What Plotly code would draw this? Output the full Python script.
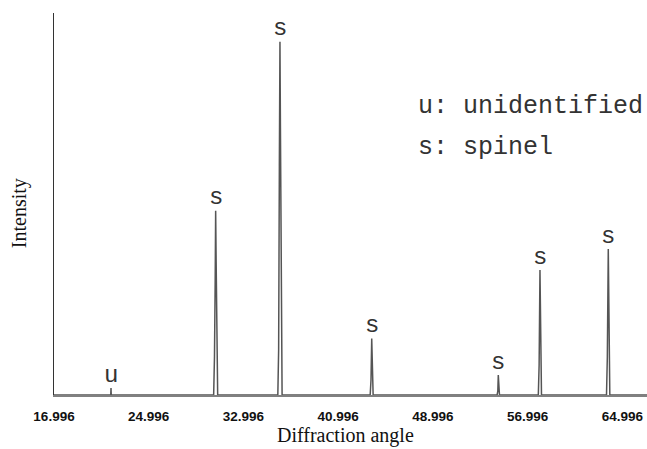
import plotly.graph_objects as go

# Diffraction pattern (angle in degrees, relative intensity)
angle = [16.996,
         21.79, 21.81, 21.83,
         30.48, 30.55, 30.61, 30.65, 30.69, 30.76, 30.82,
         35.90, 35.97, 36.03, 36.08, 36.12, 36.19, 36.26,
         43.70, 43.77, 43.83, 43.88, 43.95,
         54.42, 54.48, 54.52, 54.56, 54.62,
         57.90, 57.97, 58.04, 58.09, 58.17,
         63.66, 63.73, 63.81, 63.86, 63.94,
         67.08]
intensity = [0,
             0, 1.8, 0,
             0, 10, 30, 48.2, 35, 8, 0,
             0, 12, 60, 92.5, 70, 15, 0,
             0, 4, 14.8, 4, 0,
             0, 1, 5.2, 1, 0,
             0, 8, 32.7, 10, 0,
             0, 10, 38.2, 15, 0,
             0]

# Peak labels
peak_angle = [21.81, 30.65, 36.08, 43.83, 54.52, 58.04, 63.81]
peak_height = [1.8, 48.2, 92.5, 14.8, 5.2, 32.7, 38.2]
peak_label = ["u", "s", "s", "s", "s", "s", "s"]

tick_vals = [16.996, 24.996, 32.996, 40.996, 48.996, 56.996, 64.996]
tick_text = ["16.996", "24.996", "32.996", "40.996", "48.996", "56.996", "64.996"]

legend_lines = ["u: unidentified", "s: spinel"]

mono = "Liberation Mono, Courier New, monospace"
serif = "Liberation Serif, Times New Roman, serif"

fig = go.Figure()
fig.add_trace(go.Scatter(x=angle, y=intensity, mode="lines",
                         line=dict(color="#555555", width=1.5),
                         hoverinfo="skip", showlegend=False))

annotations = []
for a, h, t in zip(peak_angle, peak_height, peak_label):
    annotations.append(dict(x=a, y=h, xref="x", yref="y", text=t,
                            showarrow=False, yanchor="middle", xanchor="center",
                            yshift=13, font=dict(family=mono, size=24, color="#333333")))

legend_y = [0.754, 0.649]
for txt, yy in zip(legend_lines, legend_y):
    annotations.append(dict(x=0.61, y=yy, xref="paper", yref="paper", text=txt,
                            showarrow=False, xanchor="left", yanchor="middle",
                            font=dict(family=mono, size=25, color="#333333")))

annotations.append(dict(x=0.4924, y=-0.1413, xref="paper", yref="paper",
                        text="Diffraction angle", showarrow=False,
                        xanchor="center", yanchor="bottom",
                        font=dict(family=serif, size=20, color="#111111")))
annotations.append(dict(x=-0.059, y=0.476, xref="paper", yref="paper",
                        text="Intensity", showarrow=False, textangle=-90,
                        xanchor="center", yanchor="middle",
                        font=dict(family=serif, size=20, color="#111111")))

fig.update_layout(
    width=647, height=449,
    margin=dict(l=54, r=0, t=13, b=54),
    paper_bgcolor="white", plot_bgcolor="white",
    annotations=annotations,
    xaxis=dict(range=[16.996, 67.08], tickvals=tick_vals, ticktext=tick_text,
               showgrid=False, zeroline=False, showline=True,
               linecolor="#808080", linewidth=1.5, ticks="",
               ticklabelstandoff=8,
               tickfont=dict(family="Liberation Sans, Arial, sans-serif",
                             size=13.5, color="#111111", weight="bold")),
    yaxis=dict(range=[0, 100], showticklabels=False, showgrid=False,
               zeroline=False, showline=True, linecolor="#333333", linewidth=1,
               ticks=""),
)

fig.write_html("out.html", config={"displayModeBar": False},
               post_script="document.body.style.margin='0';document.body.style.overflow='hidden';")
